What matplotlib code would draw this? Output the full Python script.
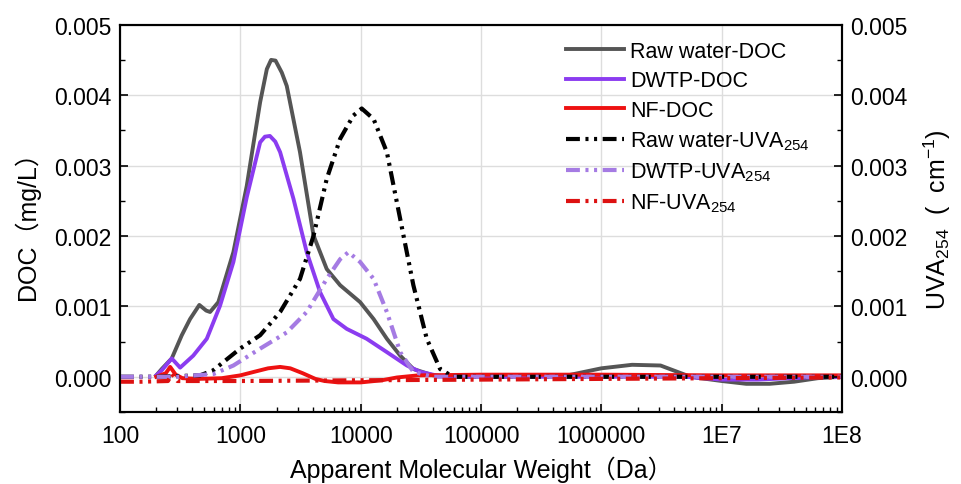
import matplotlib
matplotlib.use("Agg")
import numpy as np
import matplotlib.pyplot as plt
from matplotlib.ticker import FixedLocator, FixedFormatter, MultipleLocator, FormatStrFormatter

plt.rcParams['font.family'] = ['Liberation Sans', 'Noto Sans CJK SC', 'DejaVu Sans']
plt.rcParams['mathtext.fontset'] = 'custom'
plt.rcParams['mathtext.rm'] = 'Liberation Sans'
plt.rcParams['mathtext.it'] = 'Liberation Sans:italic'
plt.rcParams['lines.scale_dashes'] = False

# ---- data (MW in Da, signal) ----
raw_doc_mw = [200, 222, 269, 326, 382, 456, 520, 560, 656, 875, 1130, 1290, 1460, 1660, 1800,
              1960, 2210, 2430, 3130, 4050, 5220, 6750, 9890, 12800, 16500, 21300, 27400,
              40000, 60000, 150000, 525000, 1000000, 1800000, 3100000, 5500000, 1e7, 1.6e7,
              2.5e7, 4e7, 6.3e7, 1e8]
raw_doc = [0.00002, 0.00011, 0.00026, 0.00059, 0.00082, 0.00102, 0.00094, 0.00092, 0.00106,
           0.00177, 0.00271, 0.00333, 0.00390, 0.00437, 0.00450, 0.00449, 0.00432, 0.00413,
           0.00319, 0.00201, 0.00153, 0.00130, 0.00106, 0.00082, 0.00054, 0.00030, 0.00011,
           0.00002, 0.0, 0.0, 0.00002, 0.00012, 0.00017, 0.00016, 0.0, -0.00006, -0.0001,
           -0.0001, -0.00007, -0.00002, 0.0]

dwtp_doc_mw = [200, 222, 269, 316, 406, 526, 678, 875, 1130, 1460, 1600, 1760, 1950, 2140,
               2760, 3560, 4600, 5930, 7660, 11200, 16500, 24200, 31200, 45000, 100000,
               1000000, 5e6, 1e7, 2e7, 5e7, 1e8]
dwtp_doc = [0.00002, 0.00009, 0.00026, 0.00013, 0.00030, 0.00054, 0.00101, 0.00163, 0.00255,
            0.00333, 0.00341, 0.00342, 0.00334, 0.00319, 0.00253, 0.00177, 0.00120, 0.00082,
            0.00068, 0.00054, 0.00035, 0.00016, 0.00007, 0.00001, 0.0, 0.0, 0.0, -0.00004,
            -0.00004, -0.00001, 0.0]

nf_doc_mw = [200, 240, 261, 290, 330, 450, 700, 1000, 1300, 1700, 2140, 2600, 3300, 4200,
             5000, 6500, 10000, 15000, 20000, 30000, 100000, 1e6, 1e7, 1e8]
nf_doc = [0.0, 0.00005, 0.00014, 0.00003, -0.00002, -0.00003, -0.00002, 0.00002, 0.00007,
          0.00012, 0.00014, 0.00012, 0.00005, -0.00003, -0.00006, -0.00008, -0.00008,
          -0.00005, -0.00001, 0.00002, 0.00003, 0.00003, 0.00002, 0.00002]

raw_uva_mw = [100, 200, 300, 462, 593, 995, 1460, 2140, 3130, 4050, 5220, 6750, 8690, 10200,
              12800, 16500, 21300, 27400, 35400, 45700, 58600, 100000, 1e6, 1e7, 1e8]
raw_uva = [0.0, 0.0, 0.00001, 0.00002, 0.00009, 0.00040, 0.00059, 0.00092, 0.00139, 0.00200,
           0.00281, 0.00338, 0.00371, 0.00381, 0.00366, 0.00319, 0.00224, 0.00130, 0.00054,
           0.00011, 0.0, 0.0, 0.0, 0.0, 0.0]

dwtp_uva_mw = [100, 300, 600, 875, 1460, 2430, 3560, 5220, 6750, 7910, 9890, 12800, 16500,
               21300, 27400, 40000, 1e5, 1e6, 1e7, 1e8]
dwtp_uva = [0.0, 0.0, 0.00004, 0.00016, 0.00040, 0.00063, 0.00092, 0.00139, 0.00167, 0.00177,
            0.00163, 0.00139, 0.00092, 0.00035, 0.00007, 0.0, 0.0, 0.0, 0.0, 0.0]

nf_uva_mw = [100, 150, 250, 270, 300, 1000, 10000, 100000, 1e6, 1e7, 1e8]
nf_uva = [-0.00007, -0.00007, -0.00006, 0.00004, -0.00006, -0.00006, -0.00005, -0.00004,
          -0.00003, -0.00002, -0.00001]

xticks = [100, 1000, 10000, 100000, 1000000, 1e7, 1e8]
xtick_labels = ["100", "1000", "10000", "100000", "1000000", "1E7", "1E8"]

fig = plt.figure(figsize=(9.61, 4.85), dpi=100)
ax = fig.add_axes([0.1249, 0.1485, 0.7513, 0.7985])
ax2 = ax.twinx()

dash = (0, (10, 4, 2.2, 4, 2.2, 4))
l1, = ax.plot(raw_doc_mw, raw_doc, color='#555555', lw=2.8, label='Raw water-DOC')
l2, = ax.plot(dwtp_doc_mw, dwtp_doc, color='#8B3CF0', lw=2.8, label='DWTP-DOC')
l3, = ax.plot(nf_doc_mw, nf_doc, color='#EE1111', lw=2.8, label='NF-DOC')
l4, = ax2.plot(raw_uva_mw, raw_uva, color='black', lw=3.0, ls=dash, label='Raw water-UVA$_{254}$')
l5, = ax2.plot(dwtp_uva_mw, dwtp_uva, color='#A57BE3', lw=3.0, ls=dash, label='DWTP-UVA$_{254}$')
l6, = ax2.plot(nf_uva_mw, nf_uva, color='#DD1111', lw=3.0, ls=dash, label='NF-UVA$_{254}$')

for a in (ax, ax2):
    a.set_xscale('log')
    a.set_xlim(100, 1e8)
    a.set_ylim(-0.0005, 0.005)
    a.yaxis.set_major_locator(MultipleLocator(0.001))
    a.yaxis.set_minor_locator(MultipleLocator(0.0005))
    a.yaxis.set_major_formatter(FormatStrFormatter('%.3f'))
    a.tick_params(axis='both', which='major', direction='in', length=6, width=1.2, labelsize=16.5)
    a.tick_params(axis='both', which='minor', direction='in', length=3.5, width=1.0)
    for s in a.spines.values():
        s.set_linewidth(1.5)

ax.xaxis.set_major_locator(FixedLocator(xticks))
ax.xaxis.set_major_formatter(FixedFormatter(xtick_labels))
ax.tick_params(axis='x', pad=9)
ax.tick_params(axis='y', pad=6)
ax2.tick_params(axis='y', pad=6)
ax.grid(True, which='major', color='#DDDDDD', lw=1.0)
ax.set_axisbelow(True)

ax.set_xlabel('Apparent Molecular Weight（Da）', fontsize=18, labelpad=6)
ax.set_ylabel('DOC（mg/L）', fontsize=18, labelpad=10)
ax2.set_ylabel('UVA$_{254}$  (  cm$^{-1}$)', fontsize=18, labelpad=10)

leg = ax.legend(handles=[l1, l2, l3, l4, l5, l6], loc='upper left',
                bbox_to_anchor=(557 / 961, 1 - 33 / 485), bbox_transform=fig.transFigure,
                frameon=False, fontsize=15.5, handlelength=2.7, handletextpad=0.3,
                labelspacing=0.4, borderaxespad=0)

fig.savefig('out.png', dpi=100, facecolor='white')
